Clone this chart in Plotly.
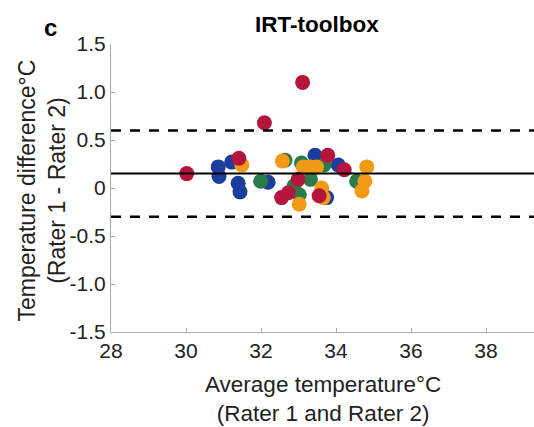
import plotly.graph_objects as go

# ---- data ----
blue_x = [30.86, 30.88, 31.22, 31.39, 31.44, 32.19, 33.44, 34.06, 33.75]
blue_y = [0.22, 0.12, 0.27, 0.05, -0.04, 0.06, 0.34, 0.24, -0.10]
green_x = [31.99, 32.64, 32.88, 33.02, 33.08, 33.32, 33.68, 34.55]
green_y = [0.07, 0.29, 0.02, -0.07, 0.26, 0.09, 0.24, 0.07]
orange_x = [31.49, 32.57, 33.13, 33.31, 33.48, 33.02, 33.62, 33.66, 34.82, 34.77, 34.69]
orange_y = [0.24, 0.28, 0.22, 0.22, 0.22, -0.17, 0.00, -0.10, 0.22, 0.07, -0.03]
red_x = [30.02, 31.41, 32.09, 33.11, 32.55, 32.73, 32.99, 33.78, 34.22, 33.55]
red_y = [0.15, 0.31, 0.68, 1.10, -0.10, -0.05, 0.09, 0.34, 0.19, -0.08]

mean_diff = 0.15
upper_loa = 0.60
lower_loa = -0.30

x_ticks = [28, 30, 32, 34, 36, 38]
y_ticks = [-1.5, -1.0, -0.5, 0, 0.5, 1.0, 1.5]
y_tick_text = ["-1.5", "-1.0", "-0.5", "0", "0.5", "1.0", "1.5"]

FONT = "Liberation Sans, Arial, sans-serif"

fig = go.Figure()

for xs, ys, col in [(blue_x, blue_y, "#1d3d9c"),
                    (green_x, green_y, "#2a7b4c"),
                    (orange_x, orange_y, "#f39a16"),
                    (red_x, red_y, "#b3153d")]:
    fig.add_trace(go.Scatter(x=xs, y=ys, mode="markers",
                             marker=dict(size=15, color=col, line=dict(width=0)),
                             showlegend=False, hoverinfo="skip"))

fig.add_shape(type="line", xref="x domain", yref="y", x0=0, x1=1,
              y0=mean_diff, y1=mean_diff, line=dict(color="black", width=2))
for v in [upper_loa, lower_loa]:
    fig.add_shape(type="line", xref="x domain", yref="y", x0=0, x1=1,
                  y0=v, y1=v, line=dict(color="black", width=2.5, dash="10px,9px"))

fig.update_layout(
    width=534, height=427,
    margin=dict(l=111, r=0, t=44, b=95, autoexpand=False),
    plot_bgcolor="white", paper_bgcolor="white",
    font=dict(family=FONT, size=16, color="#222"),
    xaxis=dict(range=[28, 39.28], tickvals=x_ticks, showgrid=False, zeroline=False,
               showline=True, linecolor="#aaa", linewidth=1,
               ticks="inside", ticklen=4, tickcolor="#aaa",
               tickfont=dict(size=21, color="#222")),
    yaxis=dict(range=[-1.5, 1.5], tickvals=y_ticks, ticktext=y_tick_text,
               showgrid=False, zeroline=False,
               showline=True, linecolor="#aaa", linewidth=1,
               ticks="inside", ticklen=4, tickcolor="#aaa",
               tickfont=dict(size=21, color="#222")),
    annotations=[
        dict(text="<b>c</b>", xref="paper", yref="paper", x=-0.142, y=1.059,
             xanchor="center", yanchor="middle", showarrow=False,
             font=dict(size=24, color="black")),
        dict(text="<b>IRT-toolbox</b>", x=0.487, y=1.066, xref="paper", yref="paper",
             xanchor="center", yanchor="middle", showarrow=False,
             font=dict(size=22.5, color="black")),
        dict(text="Average temperature°C<br>(Rater 1 and Rater 2)", x=0.501, y=-0.232,
             xref="paper", yref="paper", xanchor="center", yanchor="middle",
             showarrow=False, font=dict(size=22.5, color="#222")),
        dict(text="Temperature difference°C<br>(Rater 1 - Rater 2)", x=-0.164, y=0.49,
             xref="paper", yref="paper", xanchor="center", yanchor="middle",
             textangle=-90, showarrow=False, font=dict(size=23, color="#222")),
    ],
)

fig.write_html("out.html", config={"displayModeBar": False},
               post_script="document.body.style.margin='0';document.body.style.overflow='hidden';")
